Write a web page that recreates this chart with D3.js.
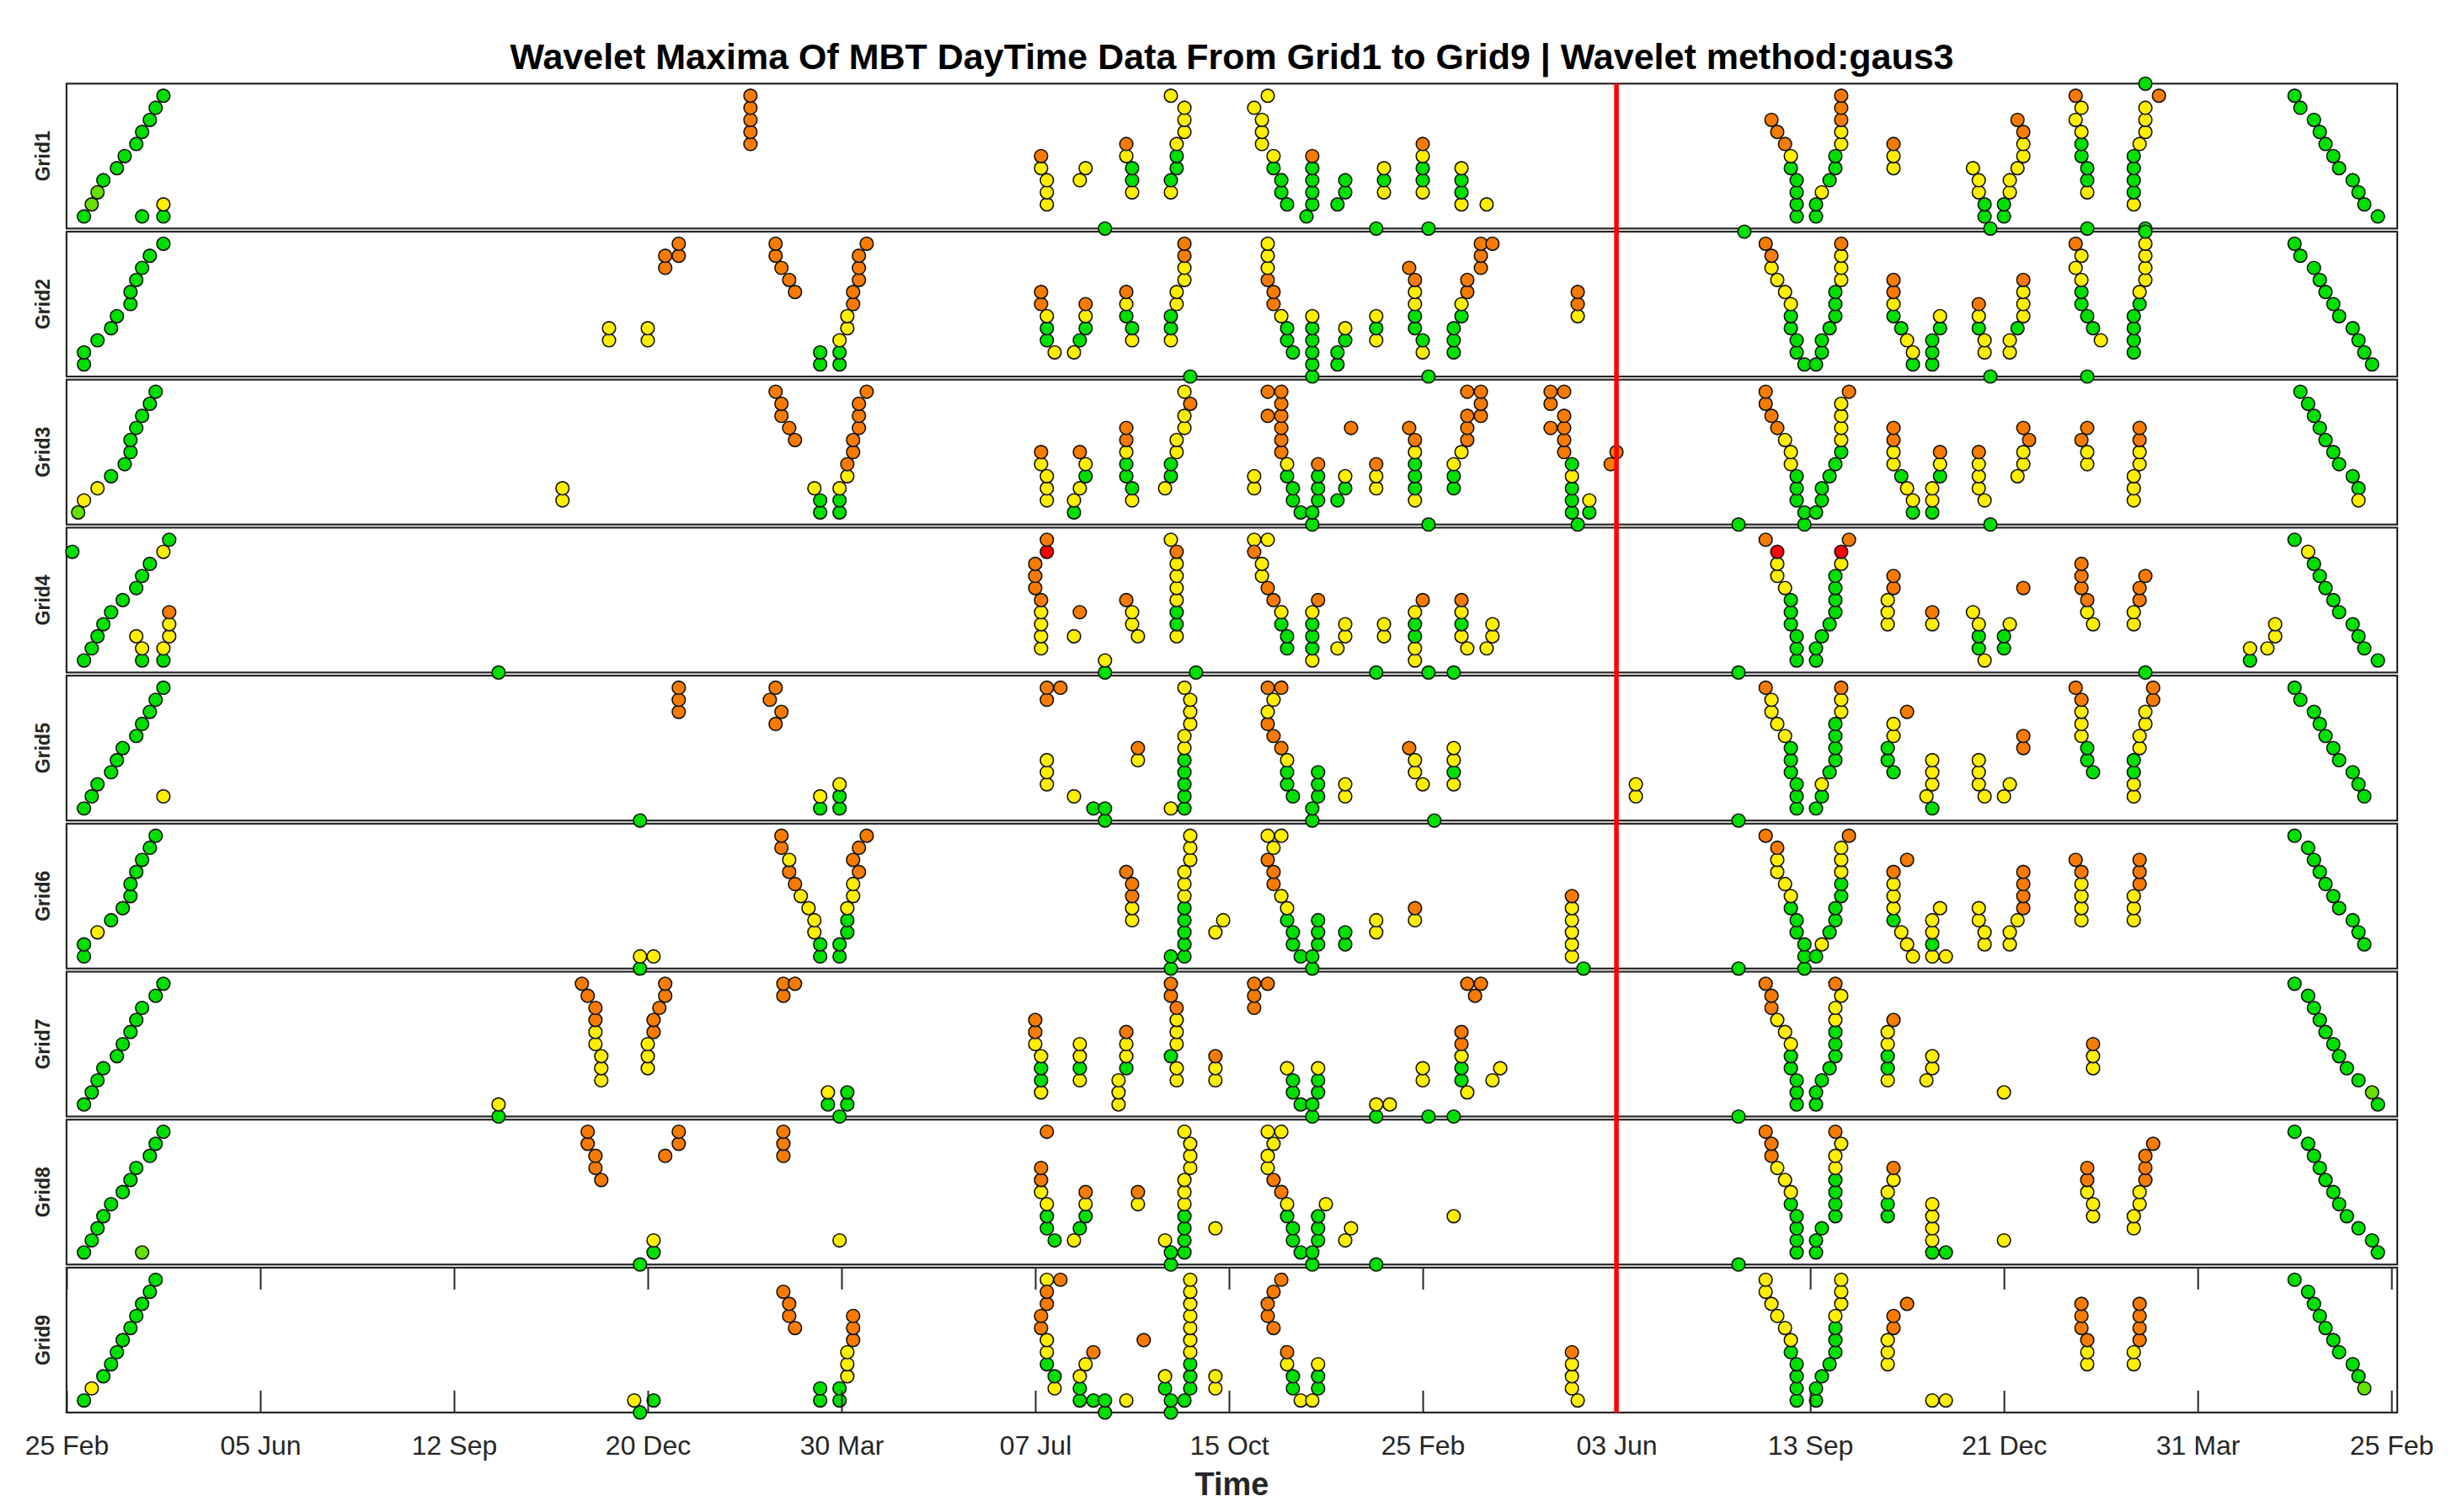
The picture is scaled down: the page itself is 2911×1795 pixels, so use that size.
<!DOCTYPE html>
<html><head><meta charset="utf-8">
<script src="https://cdn.jsdelivr.net/npm/d3@7"></script>
<style>body{margin:0;background:#fff} svg{display:block}</style>
</head><body>
<svg id="chart" width="2911" height="1795"></svg>
<script>
// ---------- DATA ----------
const titleText = "Wavelet Maxima Of MBT DayTime Data From Grid1 to Grid9 | Wavelet method:gaus3";
const xLabel = "Time";
const gridNames = ["Grid1","Grid2","Grid3","Grid4","Grid5","Grid6","Grid7","Grid8","Grid9"];
const tickValues = [0,100,200,300,400,500,600,700,800,900,1000,1100,1200];
const tickLabels = ["25 Feb","05 Jun","12 Sep","20 Dec","30 Mar","07 Jul","15 Oct","25 Feb","03 Jun","13 Sep","21 Dec","31 Mar","25 Feb"];
const eventIndex = 800;           // red marker line (03 Jun)
const levelMax = 12;               // scale levels 0..12
// colour classes of the maxima
const colorClasses = {g:"#00e000", l:"#66e000", y:"#ffee00", o:"#f77b00", r:"#ff0000"};

// each run: [time index, first scale level, colours stacked upward]
const grid1 = [[9,1,"g"],[13,2,"l"],[16,3,"l"],[19,4,"g"],[26,5,"g"],[30,6,"g"],[36,7,"g"],[39,8,"g"],[43,9,"g"],[46,10,"g"],[50,11,"g"],
[39,1,"g"],[50,1,"gy"],[353,7,"ooooo"],
[503,5,"yo"],[506,2,"yyy"],[523,4,"y"],[526,5,"y"],[536,0,"g"],
[547,6,"yo"],[550,3,"ygg"],[570,3,"yg"],[573,5,"ggy"],[577,8,"yyy"],[570,11,"y"],
[613,10,"y"],[620,11,"y"],[617,7,"yyy"],[623,5,"gy"],[627,3,"gg"],[630,2,"g"],
[640,1,"g"],[643,2,"ggggo"],[656,2,"g"],[660,3,"gg"],[676,0,"g"],[680,3,"ygy"],
[700,3,"yggyo"],[703,0,"g"],[720,2,"yggy"],[733,2,"y"],
[880,9,"o"],[883,8,"o"],[887,7,"o"],[890,5,"gy"],[893,1,"gggg"],
[903,1,"gg"],[906,3,"y"],[910,4,"g"],[913,5,"gg"],[916,7,"yyooo"],[943,5,"yyo"],
[984,5,"y"],[987,3,"yy"],[990,1,"gg"],[993,0,"g"],
[1000,1,"gg"],[1003,3,"yy"],[1007,5,"y"],[1010,6,"yyo"],[1007,9,"o"],
[1037,11,"o"],[1040,10,"y"],[1037,9,"y"],[1040,6,"ggy"],[1043,3,"ygg"],[1043,0,"g"],
[1073,8,"yyy"],[1070,7,"y"],[1067,2,"ygggg"],[1080,11,"o"],[1073,0,"g"],[1073,12,"g"],
[1150,11,"g"],[1153,10,"g"],[1160,9,"g"],[1163,8,"g"],[1166,7,"g"],[1170,6,"g"],[1173,5,"g"],[1180,4,"g"],[1183,3,"g"],[1186,2,"g"],[1193,1,"g"]];

const grid2 = [[9,1,"gg"],[16,3,"g"],[23,4,"g"],[26,5,"g"],[33,6,"gg"],[36,8,"g"],[39,9,"g"],[43,10,"g"],[50,11,"g"],
[280,3,"yy"],[300,3,"yy"],[309,9,"oo"],[316,10,"oo"],
[366,10,"oo"],[369,9,"o"],[373,8,"o"],[376,7,"o"],[389,1,"gg"],
[399,1,"ggy"],[403,4,"yy"],[406,6,"oo"],[409,8,"ooo"],[413,11,"o"],
[503,6,"oo"],[506,3,"ggy"],[510,2,"y"],[520,2,"y"],[523,3,"g"],[526,4,"gyo"],
[547,5,"gyo"],[550,3,"yg"],[570,3,"ygg"],[573,6,"yy"],[577,8,"yyoo"],[580,0,"g"],
[620,8,"oyyy"],[623,6,"oo"],[627,5,"y"],[630,3,"gg"],[633,2,"g"],
[643,0,"gggggy"],[656,1,"gg"],[660,3,"gy"],[676,3,"ygy"],
[693,9,"o"],[696,4,"ggyyo"],[700,2,"yg"],[703,0,"g"],
[716,2,"ggg"],[720,5,"gy"],[723,7,"oo"],[730,9,"ooo"],[736,11,"o"],[780,5,"yoo"],
[866,12,"g"],[877,11,"o"],[880,9,"yo"],[883,8,"y"],[887,7,"y"],[890,4,"ggy"],[893,2,"gg"],[897,1,"g"],
[903,1,"g"],[906,2,"gg"],[910,4,"g"],[913,5,"ggg"],[916,8,"yyyo"],
[943,5,"gyoo"],[947,4,"g"],[950,3,"y"],[953,1,"gy"],[963,1,"ggg"],[967,4,"gy"],
[987,4,"gyo"],[990,2,"yy"],[993,0,"g"],[1003,2,"yy"],[1007,4,"g"],[1010,5,"yyyo"],
[1037,11,"o"],[1040,10,"y"],[1037,9,"y"],[1040,6,"ggy"],[1043,5,"g"],[1046,4,"g"],[1050,3,"y"],[1043,0,"g"],
[1073,8,"yyyy"],[1073,12,"g"],[1070,6,"gy"],[1067,2,"gggg"],
[1150,11,"g"],[1153,10,"g"],[1160,9,"g"],[1163,8,"g"],[1166,7,"g"],[1170,6,"g"],[1173,5,"g"],[1180,4,"g"],[1183,3,"g"],[1186,2,"g"],[1190,1,"g"]];

const grid3 = [[6,1,"l"],[9,2,"y"],[16,3,"y"],[23,4,"g"],[30,5,"g"],[33,6,"gg"],[36,8,"g"],[39,9,"g"],[43,10,"g"],[46,11,"g"],
[256,2,"yy"],[366,11,"o"],[369,9,"oo"],[373,8,"o"],[376,7,"o"],[386,3,"y"],[389,1,"gg"],
[399,1,"ggy"],[403,4,"yo"],[406,6,"oo"],[409,8,"ooo"],[413,11,"o"],
[503,5,"yo"],[506,2,"yyy"],[520,1,"gy"],[523,3,"y"],[526,4,"gy"],[523,6,"o"],
[547,4,"ggyoo"],[550,2,"yg"],[567,3,"y"],[570,4,"gg"],[573,6,"yy"],[577,8,"yy"],[580,10,"o"],[577,11,"y"],
[613,3,"yy"],[620,11,"o"],[620,9,"o"],[627,6,"oooooo"],[630,4,"gy"],[633,2,"gg"],[637,1,"g"],
[643,0,"gg"],[646,2,"gggo"],[656,2,"g"],[660,3,"gy"],[663,8,"o"],[676,3,"yyo"],
[693,8,"o"],[696,2,"ygggyo"],[703,0,"g"],
[716,3,"ggy"],[720,6,"y"],[723,7,"ooo"],[723,11,"o"],[730,9,"ooo"],
[766,10,"oo"],[766,8,"o"],[773,6,"oooo"],[773,11,"o"],[777,1,"gggyg"],[780,0,"g"],[786,1,"gy"],
[797,5,"o"],[800,6,"o"],
[863,0,"g"],[877,10,"oo"],[880,9,"o"],[883,8,"o"],[887,7,"y"],[890,5,"yy"],[893,2,"ggg"],[897,0,"gg"],
[903,1,"g"],[906,2,"gg"],[910,4,"g"],[913,5,"g"],[916,6,"gyyyy"],[920,11,"o"],
[943,5,"yyoo"],[947,4,"g"],[950,3,"y"],[953,1,"gy"],[963,1,"gyy"],[967,4,"gyo"],
[987,3,"yyyo"],[990,2,"y"],[993,0,"g"],[1007,4,"y"],[1010,5,"yy"],[1013,7,"o"],[1010,8,"o"],
[1043,8,"o"],[1040,7,"o"],[1043,5,"yy"],[1070,5,"yyoo"],[1067,2,"yyy"],
[1153,11,"g"],[1157,10,"g"],[1160,9,"g"],[1163,8,"g"],[1166,7,"g"],[1170,6,"g"],[1173,5,"g"],[1180,4,"g"],[1183,3,"g"],[1183,2,"y"]];

const grid4 = [[3,10,"g"],[9,1,"g"],[13,2,"g"],[16,3,"g"],[19,4,"g"],[23,5,"g"],[29,6,"g"],[36,7,"g"],[39,8,"g"],[43,9,"g"],[50,10,"y"],[53,11,"g"],
[36,3,"y"],[39,1,"gy"],[50,1,"gy"],[53,3,"yyo"],[223,0,"g"],
[506,10,"ro"],[500,7,"ooo"],[503,2,"yyyyo"],[523,5,"o"],[520,3,"y"],[536,0,"gy"],
[547,6,"o"],[550,4,"yy"],[553,3,"y"],[570,11,"y"],[573,3,"yggyyyyo"],[583,0,"g"],
[613,11,"y"],[620,11,"y"],[613,10,"o"],[617,8,"yy"],[620,7,"o"],[623,6,"o"],[627,4,"gy"],[630,2,"gg"],
[643,1,"ygggy"],[646,6,"o"],[660,3,"yy"],[656,2,"y"],[676,0,"g"],[680,3,"yy"],
[700,6,"o"],[696,1,"yyggy"],[703,0,"g"],[716,0,"g"],[720,3,"ygyo"],[723,2,"y"],[733,2,"y"],[736,3,"yy"],
[863,0,"g"],[877,11,"o"],[883,8,"yyr"],[887,7,"y"],[890,4,"ggg"],[893,1,"ggg"],
[903,1,"gg"],[906,3,"g"],[910,4,"g"],[913,5,"gggg"],[916,9,"yr"],[920,11,"o"],
[943,7,"oo"],[940,4,"yyy"],[963,4,"yo"],[984,5,"y"],[987,2,"ggy"],[990,1,"y"],
[1000,2,"gg"],[1003,4,"y"],[1010,7,"o"],[1040,7,"ooo"],[1043,5,"yo"],[1046,4,"y"],
[1073,8,"o"],[1070,6,"oo"],[1067,4,"yy"],[1073,0,"g"],[1127,1,"gy"],[1136,2,"y"],[1140,3,"yy"],
[1150,11,"g"],[1157,10,"y"],[1160,9,"g"],[1163,8,"g"],[1166,7,"g"],[1170,6,"g"],[1173,5,"g"],[1180,4,"g"],[1183,3,"g"],[1186,2,"g"],[1193,1,"g"]];

const grid5 = [[9,1,"g"],[13,2,"g"],[16,3,"g"],[23,4,"g"],[26,5,"g"],[29,6,"g"],[36,7,"g"],[39,8,"g"],[43,9,"g"],[46,10,"g"],[50,11,"g"],
[50,2,"y"],[296,0,"g"],[316,9,"ooo"],[363,10,"o"],[366,11,"o"],[369,9,"o"],[366,8,"o"],
[389,1,"gy"],[399,1,"ggy"],[506,10,"oo"],[513,11,"o"],[506,3,"yyy"],[520,2,"y"],[530,1,"g"],[536,0,"gg"],
[553,5,"yo"],[570,1,"y"],[577,1,"gggggyy"],[580,8,"yyy"],[577,11,"y"],
[620,11,"o"],[627,11,"o"],[623,10,"y"],[620,8,"oy"],[623,7,"o"],[627,6,"o"],[630,3,"ggy"],[633,2,"g"],
[646,2,"ggg"],[643,0,"gg"],[660,2,"yy"],[693,6,"o"],[696,4,"yy"],[700,3,"y"],[706,0,"g"],[716,3,"ygyy"],
[810,2,"yy"],
[863,0,"g"],[877,11,"o"],[880,9,"yy"],[883,8,"y"],[887,7,"y"],[890,4,"ggg"],[893,1,"ggg"],
[903,1,"g"],[906,2,"gy"],[910,4,"g"],[913,5,"gggg"],[916,9,"yyo"],
[943,7,"yy"],[940,5,"gg"],[943,4,"g"],[950,9,"o"],[963,3,"yyy"],[960,2,"y"],[963,1,"g"],
[987,3,"yyy"],[990,2,"y"],[1000,2,"y"],[1003,3,"y"],[1010,6,"oo"],
[1037,11,"o"],[1040,7,"yyyo"],[1043,5,"gg"],[1046,4,"g"],
[1077,10,"oo"],[1073,8,"yy"],[1070,6,"yy"],[1067,2,"yygg"],
[1150,11,"g"],[1153,10,"g"],[1160,9,"g"],[1163,8,"g"],[1166,7,"g"],[1170,6,"g"],[1173,5,"g"],[1180,4,"g"],[1183,3,"g"],[1186,2,"g"]];

const grid6 = [[9,1,"gg"],[16,3,"y"],[23,4,"g"],[29,5,"g"],[33,6,"gg"],[36,8,"g"],[39,9,"g"],[43,10,"g"],[46,11,"g"],
[296,0,"gy"],[303,1,"y"],
[369,10,"oo"],[373,8,"oy"],[376,7,"o"],[379,6,"y"],[383,5,"y"],[386,3,"yy"],[389,1,"gg"],
[399,1,"gg"],[403,3,"ggy"],[406,6,"yy"],[406,9,"o"],[409,8,"o"],[409,10,"o"],[413,11,"o"],
[547,8,"o"],[550,4,"yyoo"],[570,0,"gg"],[577,1,"gggggyyy"],[580,9,"yyy"],[593,3,"y"],[597,4,"y"],
[620,11,"y"],[627,11,"y"],[623,10,"y"],[620,9,"o"],[623,7,"oo"],[627,6,"y"],[630,4,"gy"],[633,2,"gg"],[637,1,"g"],
[643,0,"gg"],[646,2,"ggg"],[660,2,"gg"],[676,3,"yy"],[696,4,"yo"],[777,1,"yyyyyo"],[783,0,"g"],
[863,0,"g"],[877,11,"o"],[883,8,"yyo"],[887,7,"y"],[890,5,"gy"],[893,3,"gg"],[897,0,"ggg"],
[903,1,"g"],[906,2,"y"],[910,3,"g"],[913,4,"gg"],[916,6,"ggyyy"],[920,11,"o"],
[950,9,"o"],[943,4,"gyyyo"],[947,3,"y"],[950,2,"y"],[953,1,"y"],
[967,5,"y"],[963,1,"ygyy"],[970,1,"y"],[987,4,"yy"],[990,2,"yy"],
[1003,2,"yy"],[1007,4,"y"],[1010,5,"oooo"],[1037,9,"o"],[1040,4,"yyyyo"],[1070,7,"ooo"],[1067,4,"yyy"],
[1150,11,"g"],[1157,10,"g"],[1160,9,"g"],[1163,8,"g"],[1166,7,"g"],[1170,6,"g"],[1173,5,"g"],[1180,4,"g"],[1183,3,"g"],[1186,2,"g"]];

const grid7 = [[9,1,"g"],[13,2,"g"],[16,3,"g"],[19,4,"g"],[26,5,"g"],[29,6,"g"],[33,7,"g"],[36,8,"g"],[39,9,"g"],[46,10,"g"],[50,11,"g"],
[223,0,"gy"],[266,11,"o"],[269,10,"o"],[273,6,"yyoo"],[276,3,"yyy"],
[309,10,"oo"],[306,9,"o"],[303,7,"oo"],[300,4,"yyy"],[370,10,"oo"],[376,11,"o"],
[393,1,"gy"],[403,1,"gg"],[399,0,"g"],
[500,6,"yoo"],[503,2,"yggy"],[523,3,"ygyy"],[547,4,"gyyo"],[543,1,"yyy"],
[570,10,"oo"],[573,6,"yyyo"],[570,5,"g"],[573,3,"yy"],[593,3,"yyo"],[613,9,"ooo"],[620,11,"o"],
[630,4,"y"],[633,2,"gg"],[637,1,"g"],[643,0,"gg"],[646,2,"ggy"],[676,0,"gy"],[683,1,"y"],
[700,3,"yy"],[703,0,"g"],[716,0,"g"],[720,3,"ggyoo"],[723,2,"y"],[723,11,"o"],[730,11,"o"],[727,10,"o"],
[736,3,"y"],[740,4,"y"],
[863,0,"g"],[877,11,"o"],[880,9,"oo"],[883,8,"y"],[887,7,"y"],[890,4,"ggy"],[893,1,"ggg"],
[903,1,"gg"],[906,3,"g"],[910,4,"g"],[913,5,"gggyy"],[916,10,"y"],[913,11,"o"],
[943,8,"o"],[940,3,"yggyy"],[963,4,"yy"],[960,3,"y"],[1000,2,"y"],[1046,4,"yyo"],
[1150,11,"g"],[1157,10,"g"],[1160,9,"g"],[1163,8,"g"],[1166,7,"g"],[1170,6,"g"],[1173,5,"g"],[1177,4,"g"],[1183,3,"g"],[1190,2,"l"],[1193,1,"g"]];

const grid8 = [[9,1,"g"],[13,2,"g"],[16,3,"g"],[19,4,"g"],[23,5,"g"],[29,6,"g"],[33,7,"g"],[36,8,"g"],[43,9,"g"],[46,10,"g"],[50,11,"g"],
[39,1,"l"],[269,10,"oo"],[273,8,"oo"],[276,7,"o"],[316,10,"oo"],[309,9,"o"],[370,9,"ooo"],
[303,1,"gy"],[296,0,"g"],[399,2,"y"],
[506,11,"o"],[503,6,"yoo"],[506,3,"ggy"],[510,2,"g"],[520,2,"y"],[523,3,"g"],[526,4,"gyo"],[553,5,"yo"],
[567,2,"y"],[570,0,"gg"],[577,1,"ggggyyy"],[580,8,"yyy"],[577,11,"y"],[593,3,"y"],
[620,11,"y"],[627,11,"y"],[623,10,"y"],[620,8,"yy"],[623,7,"o"],[627,6,"o"],[630,4,"gy"],[633,2,"gg"],[637,1,"g"],
[643,0,"gg"],[646,2,"ggg"],[650,5,"y"],[660,2,"y"],[663,3,"y"],[676,0,"g"],[716,4,"y"],
[863,0,"g"],[877,11,"o"],[880,9,"oo"],[883,8,"y"],[887,7,"y"],[890,5,"gy"],[893,1,"gggg"],
[903,1,"gg"],[906,3,"g"],[913,4,"ggggyy"],[916,10,"y"],[913,11,"o"],
[943,7,"yo"],[940,4,"ggy"],[963,1,"gyyyy"],[970,1,"g"],[1000,2,"y"],
[1043,6,"yoo"],[1046,4,"yy"],[1077,10,"o"],[1073,7,"ooo"],[1070,5,"yy"],[1067,3,"yy"],
[1150,11,"g"],[1157,10,"g"],[1160,9,"g"],[1163,8,"g"],[1166,7,"g"],[1170,6,"g"],[1173,5,"g"],[1177,4,"g"],[1183,3,"g"],[1190,2,"g"],[1193,1,"g"]];

const grid9 = [[9,1,"g"],[13,2,"y"],[19,3,"g"],[23,4,"g"],[26,5,"g"],[29,6,"g"],[33,7,"g"],[36,8,"g"],[39,9,"g"],[43,10,"g"],[46,11,"g"],
[293,1,"y"],[303,1,"g"],[296,0,"g"],[370,10,"o"],[373,8,"oo"],[376,7,"o"],
[389,1,"gg"],[399,1,"gg"],[403,3,"yyy"],[406,6,"ooo"],
[506,11,"y"],[513,11,"o"],[506,9,"oo"],[503,7,"oo"],[506,4,"gyy"],[510,2,"yg"],
[530,5,"o"],[526,4,"y"],[523,1,"ggy"],[530,1,"g"],[536,0,"gg"],[547,1,"y"],[556,6,"o"],
[567,2,"gy"],[570,0,"gg"],[577,1,"g"],[580,2,"gggyyyyyyy"],[593,2,"yy"],
[627,11,"o"],[623,10,"o"],[620,8,"oo"],[623,7,"o"],[630,4,"yo"],[633,2,"gg"],[637,1,"y"],[643,1,"y"],[646,2,"ggy"],
[777,2,"yyyo"],[780,1,"y"],
[877,10,"yy"],[880,9,"y"],[883,8,"y"],[887,7,"y"],[890,5,"gy"],[893,1,"gggg"],
[903,1,"gg"],[906,3,"g"],[910,4,"g"],[913,5,"gggy"],[916,9,"yyy"],
[950,9,"o"],[943,7,"oo"],[940,4,"yyy"],[963,1,"y"],[970,1,"y"],
[1040,7,"ooo"],[1043,4,"yyo"],[1070,6,"oooo"],[1067,4,"yy"],
[1150,11,"g"],[1157,10,"g"],[1160,9,"g"],[1163,8,"g"],[1166,7,"g"],[1170,6,"g"],[1173,5,"g"],[1180,4,"g"],[1183,3,"g"],[1186,2,"l"]];

const grids = [grid1,grid2,grid3,grid4,grid5,grid6,grid7,grid8,grid9];

// ---------- LAYOUT ----------
const FONT = "'Liberation Sans', Arial, Helvetica, sans-serif";
const plotLeft = 79, plotRight = 2846, firstTop = 99.3, pitch = 175.7, panelH = 172;
const axisColor = "#262626";

const svg = d3.select("#chart");
svg.append("rect").attr("width",2911).attr("height",1795).attr("fill","#fff");

const x = d3.scaleLinear().domain([0, 1203]).range([plotLeft, plotRight]);

svg.append("text").attr("x",(plotLeft+plotRight)/2).attr("y",82)
  .attr("text-anchor","middle").attr("font-family",FONT).attr("font-weight","bold")
  .attr("font-size",43).attr("fill","#000").text(titleText);

const panels = gridNames.map((name,i)=>{
  const top = firstTop + i*pitch;
  const y = d3.scaleLinear().domain([0, levelMax]).range([top+panelH, top]);
  return {name, top, y, runs: grids[i]};
});

const borderLayer = svg.append("g");
const pointLayer = svg.append("g");

panels.forEach((p,i)=>{
  borderLayer.append("rect").attr("x",plotLeft).attr("y",p.top)
    .attr("width",plotRight-plotLeft).attr("height",panelH)
    .attr("fill","none").attr("stroke",axisColor).attr("stroke-width",2.2);
  borderLayer.append("text")
    .attr("transform",`translate(59,${p.top+panelH/2}) rotate(-90)`)
    .attr("text-anchor","middle").attr("font-family",FONT).attr("font-weight","bold")
    .attr("font-size",23).attr("fill",axisColor).text(p.name);

  const pts = [];
  p.runs.forEach(([t,l0,cols])=>{
    for (let k=0;k<cols.length;k++) pts.push({t, level:l0+k, c:cols[k]});
  });
  pointLayer.append("g").selectAll("circle").data(pts).join("circle")
    .attr("cx",d=>x(d.t)).attr("cy",d=>p.y(d.level)).attr("r",7.8)
    .attr("fill",d=>colorClasses[d.c]).attr("stroke","#111").attr("stroke-width",1.6);
});

// axes on the bottom panel only
const last = panels[panels.length-1];
const bottomAxis = d3.axisBottom(x).tickValues(tickValues)
  .tickFormat((d,i)=>tickLabels[i]).tickSizeInner(-26).tickSizeOuter(0).tickPadding(27);
const gb = svg.append("g").attr("transform",`translate(0,${last.top+panelH})`).call(bottomAxis);
gb.select(".domain").remove();
gb.selectAll(".tick line").attr("stroke",axisColor).attr("stroke-width",2);
gb.selectAll(".tick text").attr("font-family",FONT).attr("font-size",32).attr("fill",axisColor);

const topAxis = d3.axisTop(x).tickValues(tickValues).tickFormat("").tickSizeInner(-26).tickSizeOuter(0);
const gt = svg.append("g").attr("transform",`translate(0,${last.top})`).call(topAxis);
gt.select(".domain").remove();
gt.selectAll(".tick line").attr("stroke",axisColor).attr("stroke-width",2);

svg.append("text").attr("x",(plotLeft+plotRight)/2).attr("y",1775)
  .attr("text-anchor","middle").attr("font-family",FONT).attr("font-weight","bold")
  .attr("font-size",38).attr("fill",axisColor).text(xLabel);

// red event line across all panels
svg.append("line").attr("x1",x(eventIndex)).attr("x2",x(eventIndex))
  .attr("y1",panels[0].top).attr("y2",last.top+panelH)
  .attr("stroke","#ff0000").attr("stroke-width",5.5);
</script>
</body></html>
